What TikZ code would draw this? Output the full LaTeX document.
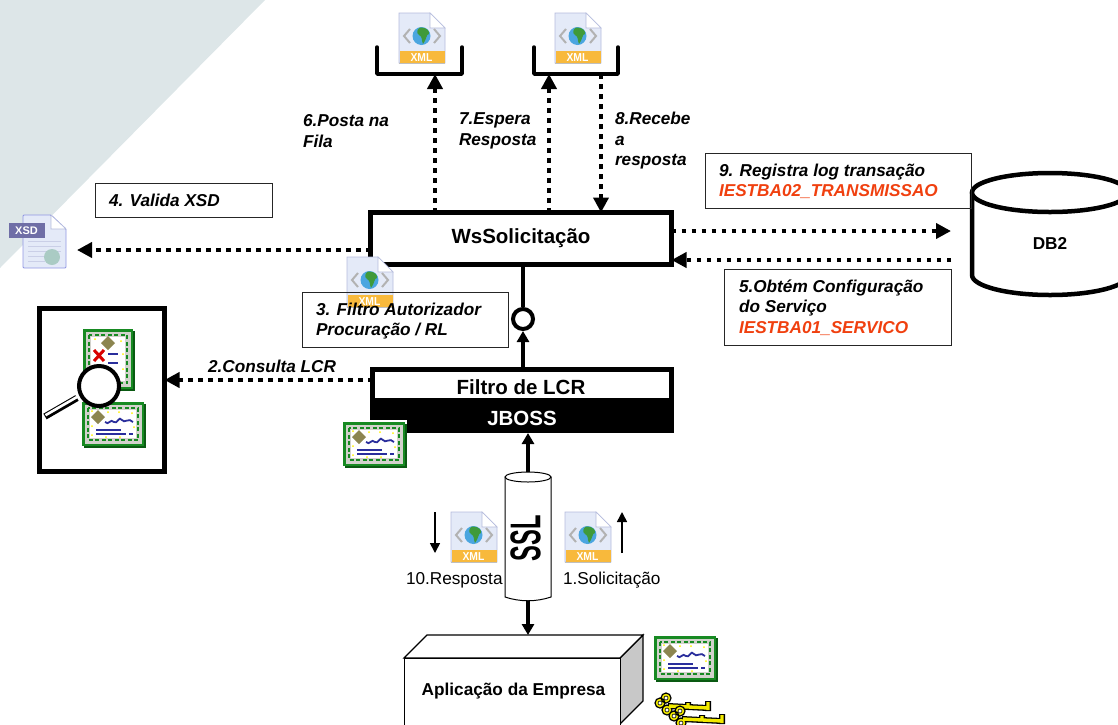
\documentclass[tikz,border=0pt]{standalone}
\usepackage{fontspec}
\setmainfont{Liberation Sans}
\usetikzlibrary{arrows.meta}
\definecolor{bgteal}{HTML}{DDE6E8}
\definecolor{certgreen}{HTML}{178A22}
\definecolor{certdark}{HTML}{0A5A12}
\definecolor{certgrey}{HTML}{D2D2CC}
\definecolor{certblue}{HTML}{2A2E9C}
\definecolor{seal}{HTML}{8C8550}
\definecolor{redtxt}{HTML}{F0400F}
\definecolor{xmlband}{HTML}{F8B93C}
\definecolor{pageblue}{HTML}{E4EAF8}
\definecolor{pageedge}{HTML}{B4BBDC}
\definecolor{xsdband}{HTML}{6F6EA6}
\definecolor{sidegrey}{HTML}{C8C8C8}
\definecolor{globeblue}{HTML}{4BA6E0}
\definecolor{globeland}{HTML}{3F9A3A}
\definecolor{keyyellow}{HTML}{F2EA00}
\definecolor{xsdglobe}{HTML}{AACBC4}
\tikzset{
  x=1pt,y=-1pt,
  lbl/.style={inner sep=0pt,outer sep=0pt,align=left,anchor=west,font=\fontsize{17.2}{20.5}\selectfont\bfseries\itshape},
  plainlbl/.style={inner sep=0pt,outer sep=0pt,font=\fontsize{17.2}{20}\selectfont},
  boldlbl/.style={inner sep=0pt,outer sep=0pt,font=\fontsize{20.5}{24}\selectfont\bfseries},
  notebox/.style={draw=black!85,line width=0.9pt,inner sep=0pt,outer sep=0pt,anchor=north west},
  thickbox/.style={draw=black,line width=5pt,fill=white,inner sep=0pt,outer sep=0pt,anchor=north west},
  dotflow/.style={line width=4.5pt,dash pattern=on 4.5pt off 5.5pt,-{Triangle[length=15pt,width=15pt]}},
  solidflow/.style={line width=4pt,-{Triangle[length=11pt,width=12pt]}},
  thinflow/.style={line width=1.6pt,-{Triangle[length=10pt,width=10pt]}},
  pics/xmlicon/.style={code={
    \fill[pageblue,draw=pageedge,line width=0.8pt] (0,0) -- (31,0) -- (46,15) -- (46,50) -- (0,50) -- cycle;
    \fill[white,draw=pageedge,line width=0.6pt] (31,0) -- (31,15) -- (46,15) -- cycle;
    \fill[xmlband] (0.5,38) rectangle (45.5,50);
    \draw[black!25,line width=0.8pt] (0,50.4) -- (46,50.4);
    \draw[black!30,line width=2pt] (11,16) -- (5,23) -- (11,30);
    \draw[black!30,line width=2pt] (35,16) -- (41,23) -- (35,30);
    \fill[globeblue] (22.5,23) circle (9);
    \fill[globeland] (21,14.5) .. controls (27,14) and (31,18) .. (30,21) .. controls (27,21) and (28,26) .. (24,31) .. controls (22,27) and (24,24) .. (20,22) .. controls (17,20) and (18,16) .. (21,14.5) -- cycle;
    \node[inner sep=0pt,text=white,font=\fontsize{11.5}{12}\selectfont\bfseries] at (22.5,44.3) {\scalebox{0.9}[1]{XML}};
  }},
  pics/certh/.style={code={
    \fill[certdark] (1.5,1.5) rectangle (64,46);
    \fill[certgreen] (0,0) rectangle (62,44);
    \fill[certgrey] (2.5,2.5) rectangle (59.5,41.5);
    \draw[certgreen,line width=1.5pt,dash pattern=on 4pt off 2.5pt] (6,6) rectangle (56,38);
    \fill[white] (8,8) rectangle (54,36);
    \fill[seal] (16,8) -- (23,15) -- (16,22) -- (9,15) -- cycle;
    \draw[certblue,line width=1.8pt] (23,20) .. controls (27,24) and (28,16) .. (32,20) .. controls (35,23) and (37,13) .. (40,18) .. controls (42,22) and (47,15) .. (51,20);
    \draw[certblue,line width=1.4pt] (14,28) -- (39,28);
    \draw[certblue,line width=1.4pt] (14,32) -- (44,32) (47,32) -- (51,32);
    \foreach \p in {(10,9),(26,10),(37,10),(50,11),(10,24),(10,33),(24,35),(38,35),(52,25)} \fill[yellow] \p circle (1);
  }},
  pics/certv/.style={code={
    \fill[certdark] (1.5,1.5) rectangle (52,62);
    \fill[certgreen] (0,0) rectangle (50,60);
    \fill[certgrey] (2.5,2.5) rectangle (47.5,57.5);
    \draw[certgreen,line width=1.5pt,dash pattern=on 4pt off 2.5pt] (6,6) rectangle (44,54);
    \fill[white] (8,8) rectangle (42,52);
    \fill[seal] (25,7) -- (32,14) -- (25,21) -- (18,14) -- cycle;
    \draw[certblue,line width=1.5pt] (25,25) -- (35,25) (25,34) -- (35,34);
    \draw[red!85!black,line width=3pt] (11,21) -- (21,32) (21,21) -- (11,32);
    \foreach \p in {(12,10),(38,12),(40,25),(13,40),(40,40)} \fill[yellow] \p circle (1);
  }},
  pics/keyicon/.style={code={
    \draw[black,line width=6pt,line join=miter] (4,2) -- (44,4) (44,7) -- (44,-3) (24,3) -- (24,-2);
    \fill[keyyellow,draw=black,line width=1.2pt] (2,-6) circle (5) (-4,-1) circle (5) (3,6) circle (5);
    \fill[white,draw=black,line width=0.6pt] (2,-6) circle (2) (-4,-1) circle (2) (3,6) circle (2);
    \draw[keyyellow,line width=3.4pt] (5,2) -- (44,4) (44,6) -- (44,-2) (24,3) -- (24,-1);
  }},
}
\begin{document}
\begin{tikzpicture}
\useasboundingbox (0,0) rectangle (1118,724);
\clip (0,0) rectangle (1118,724);
\fill[bgteal] (0,0) -- (265,0) -- (0,268) -- cycle;

% XSD icon
\begin{scope}[shift={(23,215)}]
  \fill[pageblue,draw=pageedge!80!blue,line width=0.9pt,rounded corners=1pt] (0,0) -- (28,0) -- (43,14) -- (43,53) -- (0,53) -- cycle;
  \fill[white,draw=pageedge,line width=0.6pt] (28,0) -- (28,14) -- (43,14) -- cycle;
  \draw[pageedge!70,line width=0.5pt] (5,26) -- (38,26) (5,31) -- (38,31) (5,36) -- (38,36) (5,41) -- (22,41) (5,46) -- (22,46);
  \fill[xsdglobe] (29,42) circle (8);
\end{scope}
\fill[xsdband] (9,223) rectangle (44.5,238);
\node[inner sep=0pt,text=white,font=\fontsize{11}{12}\selectfont\bfseries] (xsdtxt) at (26.5,230.5) {XSD};
\coordinate (xsd) at (77,250);

% queues
\draw[line width=3.5pt,line cap=round,line join=round] (377,47) -- (377,74) -- (462,74) -- (462,47);
\draw[line width=3.5pt,line cap=round,line join=round] (534,47) -- (534,74) -- (618,74) -- (618,47);
\pic at (399,13) {xmlicon};
\pic at (555,13) {xmlicon};
\coordinate (q1) at (435,74);
\coordinate (q2) at (549,74);
\coordinate (q3) at (601,74);

% main boxes
\node[thickbox,minimum width=301pt,minimum height=52pt] (ws) at (370.5,212.5) {};
\node[boldlbl] at (521,238) {WsSolicitação};
\pic at (347,257) {xmlicon};

\node[thickbox,minimum width=299pt,minimum height=61pt] (lcr) at (372.5,369.5) {};
\fill[black] (372,398) rectangle (674,433);
\node[boldlbl] at (521,387) {Filtro de LCR};
\node[boldlbl,text=white] at (522,418) {JBOSS};
\fill[white] (341,420) rectangle (407,470);
\pic at (343,422) {certh};

% CRL box
\node[thickbox,minimum width=125pt,minimum height=163pt] (crl) at (39.5,308.5) {};
\pic at (83,329) {certv};
\pic at (82,402) {certh};
\draw[black,line width=6.5pt] (45,416.5) -- (77,398);
\draw[white,line width=2.6pt] (45.5,415.2) -- (77,397);
\fill[white,draw=black,line width=4pt] (99,386) circle (20);

% DB2
\path[fill=white,draw=black,line width=4.5pt] (972,192.5) -- (972,275) arc[start angle=180,delta angle=-180,x radius=78,y radius=20] -- (1128,192.5);
\draw[black,line width=4.5pt,fill=white] (1050,192.5) ellipse [x radius=78,y radius=19.5];
\node[inner sep=0pt,font=\fontsize{17.2}{20}\selectfont\bfseries] (db) at (1050,243) {DB2};
\coordinate (dbA) at (951,231);
\coordinate (dbB) at (951,260);

% SSL cylinder
\path[fill=white,draw=black,line width=1pt] (505,477) -- (505,597) .. controls (520,602) and (536,602) .. (551,597) -- (551,477) -- cycle;
\fill[white,draw=black,line width=1pt] (528,477) ellipse [x radius=23,y radius=5];
\node[inner sep=0pt,rotate=90,font=\fontsize{43}{43}\selectfont\bfseries] (ssl) at (525.5,538) {\scalebox{0.55}[1]{SSL}};
\coordinate (sslT) at (528,472);
\coordinate (sslB) at (528,601);

% application box
\fill[sidegrey,draw=black,line width=1.2pt] (620,658) -- (643,635) -- (643,701) -- (620,724) -- cycle;
\fill[white,draw=black,line width=1.2pt] (404,658) -- (427,635) -- (643,635) -- (620,658) -- cycle;
\node[draw=black,line width=1.2pt,fill=white,inner sep=0pt,anchor=north west,minimum width=216pt,minimum height=80pt] (app) at (404,658) {};
\node[inner sep=0pt,font=\fontsize{17.2}{20}\selectfont\bfseries] at (513.5,691) {Aplicação da Empresa};
\pic at (654,636) {certh};
\pic at (664,704) {keyicon};
\pic at (678,717) {keyicon};

% interface circle
\node[draw=black,line width=4pt,fill=white,circle,minimum size=20pt,inner sep=0pt] (iface) at (523,319) {};

% connectors
\draw[line width=4pt] (ws.south -| iface) ++(0,2) -- (iface.north);
\draw[solidflow] (lcr.north -| iface) -- (iface.south);
\draw[solidflow] (sslT) -- (528,433);
\draw[solidflow] (sslB) -- (528,635);
\draw[dotflow] (ws.north -| q1) -- (q1);
\draw[dotflow] (ws.north -| q2) -- (q2);
\draw[dotflow] (q3) -- (ws.north -| q3);
\draw[dotflow] (ws.west |- xsd) -- (xsd);
\draw[dotflow] (ws.east |- dbA) -- (dbA);
\draw[dotflow] (dbB) -- (ws.east |- dbB);
\draw[dotflow] (lcr.west |- 0,380) -- (crl.east |- 0,380);

% note boxes
\node[notebox,minimum width=177pt,minimum height=34pt] (n4) at (95,183) {};
\node[lbl] at (109,200) {4. Valida XSD};
\node[notebox,minimum width=206pt,minimum height=55pt] (n3) at (302,292) {};
\node[lbl] at (316,321) {3. Filtro Autorizador\\Procuração / RL};
\node[notebox,minimum width=266pt,minimum height=55pt] (n9) at (705,153) {};
\node[lbl] at (719,181.5) {9. Registra log transação\\\textcolor{redtxt}{IESTBA02\_TRANSMISSAO}};
\node[notebox,minimum width=227pt,minimum height=76pt] (n5) at (724,269) {};
\node[lbl] at (739,307.5) {5.Obtém Configuração\\do Serviço\\\textcolor{redtxt}{IESTBA01\_SERVICO}};

% free labels
\node[lbl] at (208,366) {2.Consulta LCR};
\node[lbl] at (303,131) {6.Posta na\\Fila};
\node[lbl] at (459,131) {7.Espera\\Resposta};
\node[lbl] at (615,141) {8.Recebe\\a\\resposta};

% SSL side
\draw[thinflow] (435,512) -- (435,553);
\draw[thinflow] (622,553) -- (622,512);
\pic at (451,512) {xmlicon};
\pic at (565,512) {xmlicon};
\node[plainlbl,anchor=west] at (406,580) {10.Resposta};
\node[plainlbl,anchor=west] at (563,580) {1.Solicitação};
\end{tikzpicture}
\end{document}
